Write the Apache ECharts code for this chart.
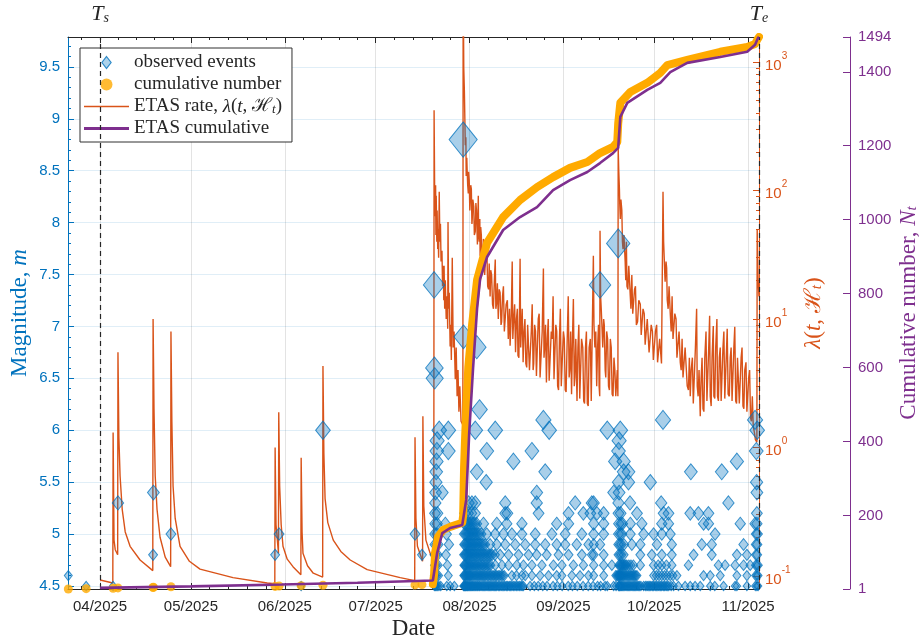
<!DOCTYPE html>
<html><head><meta charset="utf-8">
<script src="https://cdn.jsdelivr.net/npm/echarts@6/dist/echarts.min.js"></script>
<style>html,body{margin:0;padding:0;background:#fff}#c{width:919px;height:642px}</style>
</head><body><div id="c"></div>
<script>
// ---- time is in days since 2025-01-01 (day 0) ----
const xMin = 79.4, xMax = 307.6;
const Ts = 90.0, Te = 307.6;
const monthDays = [90, 120, 151, 181, 212, 243, 273, 304];
const monthLabels = ['04/2025','05/2025','06/2025','07/2025','08/2025','09/2025','10/2025','11/2025'];
const monthStartsAll = [59, 90, 120, 151, 181, 212, 243, 273, 304, 334];
const magTicks = [4.5, 5, 5.5, 6, 6.5, 7, 7.5, 8, 8.5, 9, 9.5];
const rateTicks = [0.1, 1, 10, 100, 1000];
const cumTicks = [1, 200, 400, 600, 800, 1000, 1200, 1400, 1494];

// observed events: days per magnitude row
const ev45 = [85.4,94.3,156.4,200.4,200.7,201.0,201.4,201.9,202.5,204.5,205.6,207.0,210.0,210.2,210.4,210.6,210.8,211.0,211.3,211.5,211.8,212.1,212.4,212.7,213.0,213.3,213.7,214.0,214.4,214.7,215.1,215.4,215.8,216.2,216.6,217.0,217.4,217.8,218.2,218.6,219.0,219.4,219.8,220.2,220.6,221.0,221.5,221.9,222.4,222.8,223.3,223.7,224.2,224.6,225.1,225.5,226.0,226.5,227.0,227.5,228.0,228.5,229.0,229.4,229.8,232.0,233.4,234.7,236.2,237.6,239.6,241.0,242.6,244.6,246.0,247.6,249.5,251.2,252.8,254.3,255.3,256.8,257.5,259.6,260.4,261.2,261.4,261.6,261.9,262.2,262.5,262.9,263.3,263.7,264.1,264.5,264.9,265.3,265.7,266.1,266.5,266.9,267.3,267.7,268.1,268.6,269.5,270.1,270.6,271.0,271.5,271.9,272.4,272.8,273.3,273.7,274.2,274.6,275.1,275.5,276.0,276.4,276.9,277.3,277.8,278.6,279.4,281.0,283.2,284.9,286.5,288.2,291.5,293.0,295.9,299.7,300.3,303.6,306.4,306.9,307.3];
const ev46 = [79.5,200.4,200.8,201.3,201.8,205.0,210.1,210.3,210.6,210.8,211.1,211.4,211.7,212.0,212.3,212.6,213.0,213.4,213.8,214.2,214.6,215.0,215.4,215.8,216.2,216.6,217.0,217.4,217.9,218.3,218.8,219.2,219.7,220.1,220.6,221.0,221.5,222.0,222.5,223.0,223.5,226.0,227.5,229.3,230.4,232.6,235.3,238.1,240.8,242.5,245.8,248.5,251.3,253.0,256.3,260.3,260.7,261.0,261.3,261.5,261.8,262.0,262.3,262.6,262.9,263.3,263.7,264.1,264.5,264.9,265.3,265.7,266.1,266.5,266.9,267.3,272.8,273.7,274.6,275.5,276.4,277.3,278.3,279.2,280.5,289.3,291.5,294.8,300.3,303.6,306.5,306.9,307.3];
const ev47 = [200.5,201.0,201.6,204.7,210.2,210.4,210.7,210.9,211.3,211.6,212.0,212.3,212.7,213.1,213.5,213.9,214.3,214.7,215.2,215.6,216.1,216.5,217.0,217.5,218.0,218.5,219.0,220.5,222.7,224.9,227.6,229.8,232.6,235.9,239.7,242.5,246.3,249.6,253.0,256.3,259.0,261.3,261.6,261.9,262.2,262.5,262.8,263.2,263.5,263.9,264.6,265.3,266.1,268.4,272.8,274.3,275.5,277.0,278.8,284.3,294.2,296.4,299.7,302.5,304.7,306.5,306.9,307.3];
const ev48 = [107.5,147.8,196.3,200.4,200.9,201.5,204.2,210.2,210.5,210.8,211.1,211.5,211.8,212.2,212.6,213.0,213.4,213.8,214.2,214.7,215.1,215.6,216.0,216.5,217.0,217.5,218.0,218.5,219.0,219.5,220.4,222.1,224.9,228.2,231.5,234.2,237.5,241.4,244.7,249.1,252.4,253.0,256.3,261.2,261.7,262.2,262.9,268.4,272.2,275.5,278.8,286.0,292.0,300.3,303.6,306.6,307.0];
const ev49 = [200.5,201.1,201.7,205.2,210.3,210.6,211.0,211.3,211.7,212.1,212.5,212.9,213.3,213.7,214.2,214.6,215.1,215.6,216.1,216.6,217.1,218.8,221.0,223.8,227.1,230.4,233.7,237.0,240.8,243.6,247.4,251.3,253.0,255.1,261.2,261.7,262.2,263.0,265.6,268.4,273.9,278.8,288.7,292.0,302.5,306.6,307.0];
const ev50 = [113.4,149.1,194.0,200.5,201.2,204.4,210.3,210.7,211.1,211.5,211.9,212.3,212.8,213.2,213.7,214.2,214.7,215.2,215.8,217.7,220.5,223.2,226.0,229.3,233.7,239.2,243.6,249.1,253.0,256.3,261.2,261.8,262.3,265.1,269.5,272.8,275.5,278.3,293.1,306.7,307.1];
const ev51 = [200.6,201.3,204.0,210.4,210.8,211.3,211.7,212.2,212.7,213.2,213.7,214.3,216.6,221.0,224.3,229.3,240.8,244.7,253.0,256.3,261.3,262.0,262.5,265.1,268.9,275.5,277.7,289.3,290.9,301.4,306.3,306.9];
const ev52 = [200.6,201.4,210.5,211.5,212.6,213.8,223.8,224.5,234.8,244.7,249.6,251.9,254.1,256.3,261.2,261.9,267.3,276.1,277.7,284.9,287.6,290.9,306.9];
const ev53 = [95.9,200.7,211.7,212.8,213.9,223.8,234.2,246.9,252.4,253.0,261.2,265.0,275.3,297.5];
const evLarge = [[107.6,5.4],[200.8,5.4],[203.0,5.4],[234.2,5.4],[259.6,5.4],[261.4,5.4],[306.9,5.4],
  [200.9,5.5],[217.5,5.5],[261.2,5.5],[264.5,5.5],[271.7,5.5],[306.8,5.5],
  [201.0,5.6],[214.4,5.6],[237.0,5.6],[262.9,5.6],[264.5,5.6],[285.1,5.6],[295.3,5.6],
  [201.1,5.7],[226.5,5.7],[260.1,5.7],[262.9,5.7],[300.3,5.7],
  [201.2,5.8],[205.0,5.8],[217.7,5.8],[232.6,5.8],[261.2,5.8],[306.7,5.8],
  [201.3,5.9],[261.4,5.9],
  [163.6,6.0],[202.0,6.0],[205.0,6.0],[213.9,6.0],[220.5,6.0],[238.3,6.0],[257.5,6.0],[261.8,6.0],[307.0,6.0],
  [236.4,6.1],[275.9,6.1],[306.3,6.1],
  [215.3,6.2],[200.5,6.5],[200.4,6.6],[214.4,6.8],[210.0,6.9],
  [200.3,7.4],[255.1,7.4],[261.1,7.8],[209.9,8.8]];

// ETAS conditional rate lambda(t, H_t)  [day, rate]
const etasRate = [[90.0,0.093],[94.2,0.088],[94.3,1.31],[94.6,0.19],[95.0,0.16],[95.8,0.146],[95.9,5.5],[96.2,1.2],[96.6,0.6],[97.3,0.33],[98.3,0.22],[99.9,0.17],[103.2,0.133],[107.4,0.11],[107.5,10],[107.8,2.0],[108.2,0.6],[108.8,0.33],[109.8,0.2],[111.5,0.14],[113.3,0.118],[113.4,8.0],[113.7,1.6],[114.1,0.5],[114.8,0.28],[116.4,0.17],[119.5,0.13],[123.0,0.113],[133.9,0.097],[145.2,0.088],[147.7,0.087],[147.8,1.0],[148.1,0.25],[148.9,0.15],[149.0,1.88],[149.3,0.5],[149.8,0.25],[150.4,0.17],[151.8,0.135],[153.7,0.118],[156.3,0.102],[156.4,0.83],[156.7,0.22],[157.0,0.15],[158.5,0.12],[160.4,0.105],[163.5,0.098],[163.6,4.3],[163.9,0.9],[164.3,0.4],[165.2,0.26],[167.0,0.19],[169.5,0.155],[172.6,0.133],[178.2,0.112],[189.1,0.097],[193.9,0.092],[194.0,1.2],[194.3,0.28],[194.8,0.17],[196.5,0.13],[196.6,1.75],[196.9,0.35],[197.6,0.19],[199.0,0.15],[200.2,0.13],[200.3,422],[200.5,90],[200.6,63],[200.8,110],[200.9,45],[201.0,91],[201.2,40],[201.3,70],[201.5,35],[201.6,50],[201.8,30],[202.0,98],[202.2,40],[202.4,55],[202.6,28],[202.9,34],[203.1,18],[203.3,26],[203.5,14],[203.6,26],[203.8,12],[204.0,20],[204.3,10],[204.6,15],[204.8,8.4],[204.9,57],[205.1,12],[205.3,16],[205.6,6.1],[205.8,9],[206.0,4.8],[206.3,30],[206.6,6],[206.9,8],[207.3,3.4],[207.6,6],[207.9,2.5],[208.2,4],[208.5,1.9],[208.8,3],[209.2,1.6],[209.8,1.5],[209.9,5000],[210.1,900],[210.3,600],[210.5,320],[210.6,225],[210.8,260],[210.9,130],[211.1,180],[211.2,148],[211.4,110],[211.6,95],[211.7,140],[211.9,120],[212.1,70],[212.2,80],[212.4,110],[212.6,103],[212.8,55],[212.9,60],[213.1,85],[213.4,75],[213.6,45],[213.9,48],[214.1,80],[214.3,70],[214.6,38],[214.9,91],[215.0,45],[215.2,40],[215.4,60],[215.5,31],[215.7,52],[215.9,45],[216.1,28],[216.4,26],[216.6,42],[216.8,38],[217.0,22],[217.2,21.7],[217.5,35],[217.8,28],[218.0,18],[218.3,17],[218.5,27],[218.8,15],[219.0,24],[219.3,22],[219.6,13],[219.9,12],[220.2,20],[220.5,29],[220.7,12],[220.9,13],[221.2,19],[221.5,10],[221.8,17],[222.1,16],[222.4,9],[222.6,9.5],[222.9,15],[223.2,18],[223.5,8],[223.8,8],[224.1,13],[224.5,14],[224.8,7],[225.0,7],[225.2,12],[225.4,6.2],[225.8,11],[226.1,28],[226.3,7],[226.5,9],[226.9,13],[227.2,5.5],[227.5,10],[227.8,12],[228.0,5.2],[228.3,5],[228.5,11],[228.7,29.5],[228.9,6],[229.1,8],[229.4,12],[229.7,4.6],[230.0,8],[230.3,10],[230.6,4.5],[230.9,4.2],[231.2,9],[231.5,9],[231.8,4],[232.1,3.9],[232.4,8],[232.7,13],[233.0,4],[233.2,4.5],[233.5,9],[233.8,8],[234.1,3.6],[234.4,3.5],[234.7,10],[235.0,11],[235.3,3.5],[235.6,3.4],[236.0,8],[236.4,24.7],[236.6,5],[236.8,6],[237.1,9],[237.4,3.2],[237.7,7],[238.0,10],[238.3,3.3],[238.6,3.3],[239.0,8],[239.3,7],[239.6,15],[239.9,3.4],[240.1,3.5],[240.5,9],[240.8,8],[241.1,3],[241.4,2.8],[241.7,7],[242.0,12],[242.3,3],[242.6,3],[243.0,8],[243.3,7],[243.6,2.8],[243.9,2.7],[244.2,6],[244.6,15],[244.9,3.5],[245.1,4],[245.4,8],[245.7,2.6],[246.0,7],[246.3,14.3],[246.6,3],[246.8,3.5],[247.1,7],[247.5,2.3],[247.8,6],[248.1,9],[248.4,2.4],[248.7,2.4],[249.0,7],[249.4,6],[249.7,2.3],[250.0,2.2],[250.3,6],[250.6,8],[250.9,2.2],[251.2,2.1],[251.5,6],[251.9,7],[252.2,2.3],[252.5,2.3],[252.9,31],[253.1,9],[253.4,6],[253.7,8],[254.0,3],[254.3,6],[254.6,9],[254.8,3],[255.0,2.5],[255.1,48.6],[255.3,15],[255.5,12],[255.8,8],[256.0,6],[256.3,10],[256.5,9],[256.8,4],[257.0,3.5],[257.3,8],[257.6,7],[257.9,3],[258.2,2.8],[258.5,7],[258.8,6],[259.1,2.6],[259.4,2.5],[259.7,5],[260.0,4],[260.3,2.5],[260.5,2.5],[260.8,4],[261.0,2.5],[261.1,213],[261.3,140],[261.5,103],[261.6,80],[261.8,60],[262.0,85],[262.3,70],[262.5,40],[262.7,35],[263.0,45],[263.4,28],[263.6,20],[263.8,40],[264.0,18],[264.3,17],[264.6,26],[265.1,15],[265.3,12],[265.6,22],[265.9,11],[266.2,11],[266.5,17],[266.8,18],[267.1,9],[267.5,9.5],[267.9,14],[268.4,13],[268.7,7.5],[269.0,7.5],[269.3,12],[269.7,11],[270.0,6.3],[270.4,6.2],[270.7,10],[271.0,10],[271.3,5.5],[271.7,5.5],[272.0,9],[272.4,8],[272.7,4.8],[273.1,4.8],[273.4,8],[273.8,9],[274.1,4.6],[274.5,4.6],[274.8,7],[275.0,6],[275.4,4.5],[275.8,4.5],[275.9,98],[276.1,40],[276.3,30],[276.5,22],[276.6,19.5],[276.9,28],[277.1,25],[277.3,14],[277.6,12],[277.9,18],[278.3,11],[278.6,8],[278.9,15],[279.2,7],[279.5,7],[279.8,11],[280.2,10],[280.5,5],[280.9,5],[281.2,8],[281.6,4.6],[281.9,4],[282.2,7],[282.5,3.5],[282.9,3.4],[283.2,6],[283.6,6],[283.9,3],[284.3,2.8],[284.6,5],[284.9,2.5],[285.2,4],[285.6,5],[285.9,2.2],[286.3,2.2],[286.6,6],[287.0,12],[287.2,3],[287.5,2.5],[287.8,4],[288.2,1.75],[288.5,3.5],[288.8,5],[289.1,2],[289.4,1.9],[289.7,5],[290.1,8],[290.4,2.3],[290.7,2.3],[291.0,6],[291.3,10.6],[291.5,2.5],[291.8,2.1],[292.1,5],[292.5,8.8],[292.7,2.5],[293.0,2.4],[293.3,6],[293.7,10],[293.9,2.5],[294.2,2.3],[294.5,5],[294.8,6],[295.1,2.3],[295.4,2.25],[295.7,6],[296.0,8],[296.3,2.4],[296.6,2.4],[296.9,6],[297.1,8.4],[297.4,2.6],[297.8,2.5],[298.1,5],[298.4,6],[298.7,2.3],[299.0,2.3],[299.3,6],[299.6,8.7],[299.9,2.3],[300.2,2.2],[300.5,5],[300.8,5],[301.1,2.2],[301.4,2.25],[301.7,5],[302.0,6],[302.3,2.1],[302.6,2.0],[302.9,4],[303.3,4.6],[303.6,1.9],[303.9,1.9],[304.2,3.5],[304.5,4],[304.8,1.7],[305.1,1.6],[305.4,2.5],[305.7,1.46],[306.1,1.3],[306.4,1.15],[306.9,1.1],[307.0,50],[307.3,20],[307.6,15]];

// observed cumulative number  [day, N]
const cumEarly = [[79.5,1],[85.4,2],[94.3,3],[95.9,4],[107.5,5],[107.6,6],[113.4,7],[147.8,8],[149.1,9],[156.4,10],[163.6,11],[194.0,12],[196.3,13]];
const cumMain = [[199.9,14],[200.3,40],[200.6,98],[201.6,142],[203.3,161],[205.6,169],[209.6,180],[209.9,200],[210.2,330],[210.6,423],[211.6,602],[212.9,720],[214.5,837],[217.8,937],[223.1,1007],[228.7,1053],[234.3,1088],[239.6,1115],[245.2,1140],[250.9,1156],[255.1,1180],[259.4,1197],[260.8,1210],[261.1,1260],[261.8,1316],[265.1,1345],[270.7,1370],[275.0,1397],[277.3,1418],[283.9,1432],[294.8,1454],[303.7,1467],[306.3,1475],[307.0,1486],[307.6,1494]];
// ETAS cumulative  [day, N]
const etasCum = [[90,4],[120,8],[150,13],[175,18],[199.9,24],[200.0,25],[201.3,98],[203.0,152],[205.6,166],[209.6,174],[210.9,242],[211.9,423],[213.2,602],[214.5,760],[215.5,840],[217.8,899],[223.1,972],[228.7,1007],[234.3,1034],[239.6,1080],[245.2,1107],[250.9,1129],[255.1,1153],[259.4,1180],[261.1,1194],[261.8,1278],[264.1,1316],[270.7,1351],[275.0,1370],[278.3,1399],[283.9,1424],[294.8,1440],[303.7,1454],[306.3,1473],[307.3,1492],[307.6,1494]];

// ---- build ----
const BLUE = '#0072BD', ORANGE = '#D95319', PURPLE = '#7E2F8E', GOLD = '#FFAA00', DARK = '#262626';
const SERIF = 'Liberation Serif, DejaVu Serif, serif';
const SANS = 'Liberation Sans, Arial, sans-serif';

const rows = [[4.5,ev45],[4.6,ev46],[4.7,ev47],[4.8,ev48],[4.9,ev49],[5.0,ev50],[5.1,ev51],[5.2,ev52],[5.3,ev53]];
let events = [];
rows.forEach(([m, days]) => days.forEach(d => events.push([d, m])));
evLarge.forEach(p => events.push([p[0], p[1]]));
events.sort((a, b) => a[0] - b[0]);

const minorX = [];
for (let i = 0; i < monthStartsAll.length - 1; i++) {
  const a = monthStartsAll[i], b = monthStartsAll[i + 1];
  for (let k = 1; k < 5; k++) { const v = a + (b - a) * k / 5; if (v > xMin && v < xMax) minorX.push(v); }
}
const minorMag = [];
for (let v = 45; v <= 97; v++) { if (v % 5 !== 0) minorMag.push(v / 10); }
const minorRate = [];
for (let d = -2; d <= 3; d++) for (let k = 2; k <= 9; k++) { const v = k * Math.pow(10, d); if (v > 0.0791 && v < 1567) minorRate.push(v); }

function baseX(pos, extra) {
  return Object.assign({
    type: 'value', min: xMin, max: xMax, position: pos, gridIndex: 0,
    axisLine: { show: false }, axisLabel: { show: false }, splitLine: { show: false },
    axisTick: { show: false }
  }, extra);
}

const option = {
  animation: false,
  backgroundColor: '#fff',
  textStyle: { fontFamily: SANS },
  grid: { left: 68, top: 37, width: 691, height: 552, containLabel: false, outerBoundsMode: 'none' },
  legend: {
    left: 80, top: 48, orient: 'vertical',
    backgroundColor: '#fff', borderColor: '#303030', borderWidth: 1,
    padding: [5, 10, 4, 4], itemGap: 3, itemWidth: 45, itemHeight: 12,
    textStyle: { fontFamily: SERIF, fontSize: 19, color: DARK,
      rich: { n: { fontFamily: SERIF, fontSize: 19, color: DARK },
              i: { fontFamily: SERIF, fontSize: 19, color: DARK, fontStyle: 'italic' },
              s: { fontFamily: SERIF, fontSize: 13, color: DARK, fontStyle: 'italic', verticalAlign: 'bottom', padding: [6, 0, 0, 0] } } },
    formatter: function (name) {
      if (name === 'ETAS rate') return '{n|ETAS rate, }{i|λ}{n|(}{i|t}{n|, ℋ}{s|t}{n|)}';
      return '{n|' + name + '}';
    },
    data: [
      { name: 'observed events', icon: 'path://M5,0L10,6.5L5,13L0,6.5Z', itemStyle: { color: 'rgba(0,114,189,0.4)', borderColor: BLUE, borderWidth: 1.2 } },
      { name: 'cumulative number', icon: 'circle', itemStyle: { color: GOLD } },
      { name: 'ETAS rate', icon: 'path://M0,0L45,0L45,1.6L0,1.6Z', itemStyle: { color: ORANGE } },
      { name: 'ETAS cumulative', icon: 'path://M0,0L45,0L45,3L0,3Z', itemStyle: { color: PURPLE } }
    ]
  },
  xAxis: [
    baseX('bottom', {
      axisLine: { show: true, onZero: false, lineStyle: { color: DARK, width: 1 } },
      axisTick: { show: true, inside: true, length: 6, customValues: monthDays, lineStyle: { color: DARK } },
      axisLabel: { show: true, customValues: monthDays, margin: 10, fontSize: 15, color: DARK, fontFamily: SANS,
        formatter: v => { const i = monthDays.findIndex(d => Math.abs(d - v) < 0.01); return i >= 0 ? monthLabels[i] : ''; } },
      splitLine: { show: true, lineStyle: { color: 'rgba(38,38,38,0.13)', width: 1 } },
      name: 'Date', nameLocation: 'middle', nameGap: 28, nameMoveOverlap: false,
      nameTextStyle: { fontFamily: SERIF, fontSize: 23, color: DARK }
    }),
    baseX('bottom', { axisTick: { show: true, inside: true, length: 3, customValues: minorX, lineStyle: { color: DARK } } }),
    baseX('top', {
      axisLine: { show: true, onZero: false, lineStyle: { color: DARK, width: 1 } },
      axisTick: { show: true, inside: true, length: 6, customValues: monthDays, lineStyle: { color: DARK } }
    }),
    baseX('top', { axisTick: { show: true, inside: true, length: 3, customValues: minorX, lineStyle: { color: DARK } } })
  ],
  yAxis: [
    { type: 'value', min: 4.471, max: 9.788, position: 'left',
      axisLine: { show: true, onZero: false, lineStyle: { color: BLUE, width: 1 } },
      axisTick: { show: true, inside: true, length: 6, customValues: magTicks, lineStyle: { color: BLUE } },
      axisLabel: { show: true, customValues: magTicks, margin: 8, fontSize: 15, color: BLUE, fontFamily: SANS,
        formatter: v => String(Math.round(v * 10) / 10) },
      splitLine: { show: true, lineStyle: { color: 'rgba(0,114,189,0.12)', width: 1 } },
      name: '{a|Magnitude, }{i|m}', nameLocation: 'middle', nameGap: 37, nameMoveOverlap: false,
      nameTextStyle: { color: BLUE, fontFamily: SERIF, fontSize: 23,
        rich: { a: { color: BLUE, fontFamily: SERIF, fontSize: 23 }, i: { color: BLUE, fontFamily: SERIF, fontSize: 23, fontStyle: 'italic' } } }
    },
    { type: 'value', min: 4.471, max: 9.788, position: 'left',
      axisLine: { show: false }, axisLabel: { show: false }, splitLine: { show: false },
      axisTick: { show: true, inside: true, length: 3, customValues: minorMag, lineStyle: { color: BLUE } } },
    { type: 'log', logBase: 10, min: 0.0791, max: 1567, position: 'right',
      axisLine: { show: true, onZero: false, lineStyle: { color: ORANGE, width: 1 } },
      axisTick: { show: true, inside: true, length: 6, customValues: rateTicks, lineStyle: { color: ORANGE } },
      axisLabel: { show: true, customValues: rateTicks, margin: 6, color: ORANGE, fontFamily: SANS,
        formatter: v => '{b|10}{e|' + Math.round(Math.log10(v)) + '}',
        rich: { b: { fontSize: 15, color: ORANGE, fontFamily: SANS, verticalAlign: 'bottom', lineHeight: 22 },
                e: { fontSize: 10, color: ORANGE, fontFamily: SANS, verticalAlign: 'top', lineHeight: 12 } } },
      splitLine: { show: false },
      name: '{i|λ}{a|(}{i|t}{a|, ℋ}{s|t}{a|)}', nameLocation: 'middle', nameGap: 43, nameMoveOverlap: false,
      nameTextStyle: { color: ORANGE, fontFamily: SERIF, fontSize: 23,
        rich: { a: { color: ORANGE, fontFamily: SERIF, fontSize: 23 }, i: { color: ORANGE, fontFamily: SERIF, fontSize: 23, fontStyle: 'italic' },
                s: { color: ORANGE, fontFamily: SERIF, fontSize: 15, fontStyle: 'italic', verticalAlign: 'bottom', padding: [8, 0, 0, 0] } } }
    },
    { type: 'log', logBase: 10, min: 0.0791, max: 1567, position: 'right',
      axisLine: { show: false }, axisLabel: { show: false }, splitLine: { show: false },
      axisTick: { show: true, inside: true, length: 3, customValues: minorRate, lineStyle: { color: ORANGE } } },
    { type: 'value', min: 1, max: 1494, position: 'right', offset: 91,
      axisLine: { show: true, onZero: false, lineStyle: { color: PURPLE, width: 1 } },
      axisTick: { show: true, inside: true, length: 7, customValues: cumTicks, lineStyle: { color: PURPLE } },
      axisLabel: { show: true, customValues: cumTicks, margin: 8, fontSize: 15, color: PURPLE, fontFamily: SANS,
        formatter: v => String(Math.round(v)) },
      splitLine: { show: false },
      name: '{a|Cumulative number, }{i|N}{s|t}', nameLocation: 'middle', nameGap: 47, nameMoveOverlap: false,
      nameTextStyle: { color: PURPLE, fontFamily: SERIF, fontSize: 23,
        rich: { a: { color: PURPLE, fontFamily: SERIF, fontSize: 23 }, i: { color: PURPLE, fontFamily: SERIF, fontSize: 23, fontStyle: 'italic' },
                s: { color: PURPLE, fontFamily: SERIF, fontSize: 15, fontStyle: 'italic', verticalAlign: 'bottom', padding: [8, 0, 0, 0] } } }
    }
  ],
  series: [
    { name: 'ETAS rate', type: 'line', xAxisIndex: 0, yAxisIndex: 2, data: etasRate, showSymbol: false, symbol: 'none',
      lineStyle: { color: ORANGE, width: 1.4 }, itemStyle: { color: ORANGE }, z: 2,
      markLine: { silent: true, symbol: 'none', label: { show: false },
        lineStyle: { color: DARK, type: [5, 4], width: 1.2 },
        data: [{ xAxis: Ts }, { xAxis: Te }] } },
    { name: 'observed events', type: 'scatter', xAxisIndex: 0, yAxisIndex: 0, data: events, symbol: 'diamond',
      symbolSize: v => { const w = 7.5 + 4.8 * (v[1] - 4.5); return [w, w * 1.25]; },
      itemStyle: { color: 'rgba(0,114,189,0.42)', borderColor: 'rgba(0,114,189,0.95)', borderWidth: 1 }, z: 3 },
    { name: 'cumulative number', type: 'scatter', xAxisIndex: 0, yAxisIndex: 4, data: cumEarly, symbol: 'circle', symbolSize: 9,
      itemStyle: { color: GOLD }, z: 4 },
    { name: 'cumulative number', type: 'line', xAxisIndex: 0, yAxisIndex: 4, data: cumMain, showSymbol: false, symbol: 'none',
      lineStyle: { color: GOLD, width: 8, cap: 'round', join: 'round' }, itemStyle: { color: GOLD }, z: 4 },
    { name: 'ETAS cumulative', type: 'line', xAxisIndex: 0, yAxisIndex: 4, data: etasCum, showSymbol: false, symbol: 'none',
      lineStyle: { color: PURPLE, width: 2.6 }, itemStyle: { color: PURPLE }, z: 5 }
  ]
};

const chart = echarts.init(document.getElementById('c'));
chart.setOption(option);
const pxTs = chart.convertToPixel({ xAxisIndex: 0 }, Ts);
const pxTe = chart.convertToPixel({ xAxisIndex: 0 }, Te);
const tRich = { i: { fontFamily: SERIF, fontSize: 22, fontStyle: 'italic', fill: DARK },
                s: { fontFamily: SERIF, fontSize: 14, fontStyle: 'italic', fill: DARK, verticalAlign: 'bottom', padding: [9, 0, 0, 0] } };
chart.setOption({ graphic: [
  { type: 'text', x: pxTs, y: 14, style: { text: '{i|T}{s|s}', rich: tRich, align: 'center', verticalAlign: 'middle' } },
  { type: 'text', x: pxTe, y: 14, style: { text: '{i|T}{s|e}', rich: tRich, align: 'center', verticalAlign: 'middle' } }
] });
</script></body></html>
